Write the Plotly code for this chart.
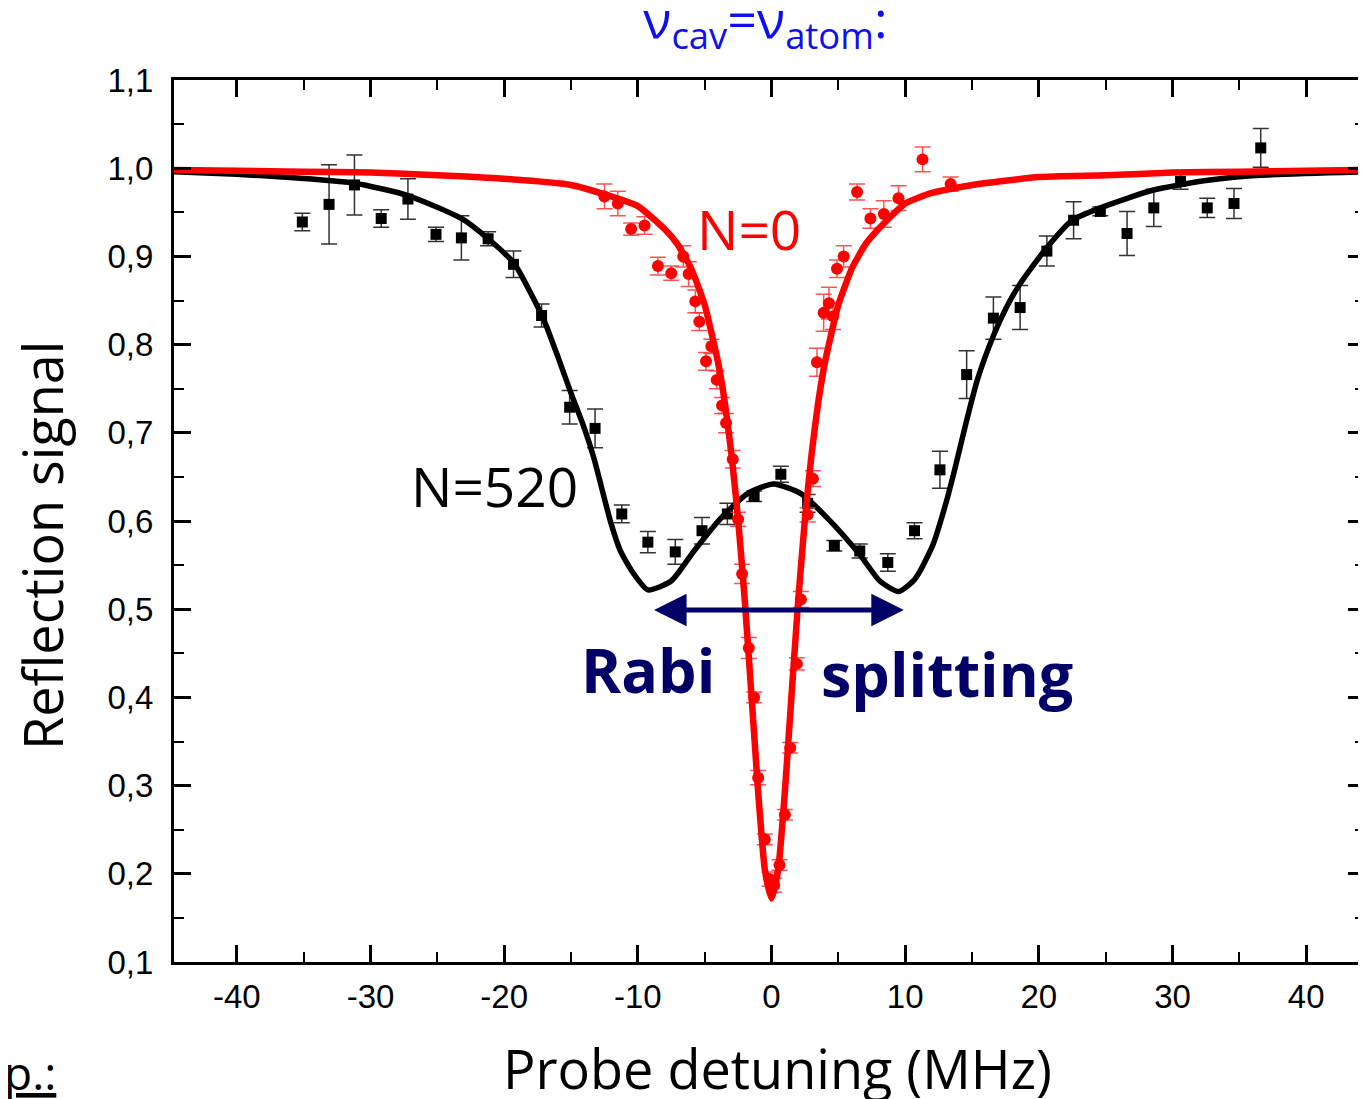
import plotly.graph_objects as go

# ---- data ----
black_x = [-35.1, -33.1, -31.2, -29.2, -27.2, -25.1, -23.2, -21.2, -19.3, -17.2, -15.1, -13.2,
           -11.2, -9.25, -7.2, -5.2, -3.3, -1.3, 0.7, 2.7, 4.7, 6.6, 8.7, 10.7, 12.6, 14.6,
           16.6, 18.6, 20.6, 22.6, 24.6, 26.6, 28.6, 30.6, 32.6, 34.6, 36.6]
black_y = [0.939, 0.959, 0.981, 0.943, 0.965, 0.925, 0.921, 0.920, 0.891, 0.833, 0.729, 0.705,
           0.608, 0.576, 0.565, 0.589, 0.608, 0.628, 0.653, 0.620, 0.572, 0.566, 0.553, 0.589,
           0.658, 0.766, 0.830, 0.842, 0.906, 0.941, 0.951, 0.926, 0.955, 0.985, 0.955, 0.960, 1.023]
black_err = [0.010, 0.045, 0.034, 0.010, 0.023, 0.008, 0.025, 0.008, 0.015, 0.013, 0.019, 0.022,
             0.010, 0.012, 0.014, 0.015, 0.012, 0.006, 0.009, 0.010, 0.006, 0.008, 0.010, 0.009,
             0.021, 0.027, 0.024, 0.025, 0.017, 0.021, 0.005, 0.025, 0.021, 0.009, 0.011, 0.017, 0.022]

red_x = [-12.5, -11.5, -10.5, -9.5, -8.5, -7.5, -6.6, -6.2, -5.7, -5.4, -4.9, -4.5, -4.1, -3.7,
         -3.4, -2.9, -2.5, -2.2, -1.7, -1.3, -1.0, -0.5, -0.15, 0.2, 0.6, 1.0, 1.4, 1.9, 2.2,
         2.7, 3.1, 3.4, 3.9, 4.3, 4.6, 4.9, 5.4, 6.4, 7.4, 8.4, 9.5, 11.3, 13.4]
red_y = [0.968, 0.960, 0.931, 0.935, 0.889, 0.881, 0.900, 0.880, 0.849, 0.826, 0.781, 0.798, 0.760,
         0.731, 0.711, 0.670, 0.602, 0.540, 0.456, 0.400, 0.309, 0.239, 0.194, 0.187, 0.210, 0.267,
         0.343, 0.438, 0.511, 0.607, 0.648, 0.780, 0.836, 0.847, 0.832, 0.886, 0.900, 0.973, 0.943,
         0.948, 0.966, 1.010, 0.982]
red_err = [0.014, 0.014, 0.007, 0.010, 0.010, 0.008, 0.012, 0.014, 0.013, 0.010, 0.010, 0.008, 0.010,
           0.009, 0.011, 0.010, 0.008, 0.011, 0.012, 0.006, 0.008, 0.006, 0.008, 0.008, 0.006, 0.006,
           0.006, 0.007, 0.009, 0.008, 0.009, 0.016, 0.021, 0.018, 0.015, 0.010, 0.012, 0.009, 0.011,
           0.015, 0.014, 0.014, 0.008]

# fitted curves
fit520_x = [-44.7, -40, -36.6, -31.2, -27.2, -23.2, -21.2, -19.25, -18, -17, -16, -15, -14,
            -13.3, -12, -11.3, -10.3, -9.25, -7.5, -5.8, -3.8, -1.8, 0.15, 2.2, 4.2, 6.6, 8.1,
            9.5, 10.6, 11.1, 12.1, 13.1, 13.7, 14.6, 15.4, 16.6, 17.6, 18.6, 20.6, 22.5, 24.6,
            28.5, 32.5, 36.5, 44.4]
fit520_y = [0.996, 0.993, 0.990, 0.983, 0.969, 0.943, 0.920, 0.892, 0.858, 0.827, 0.787, 0.745,
            0.705, 0.672, 0.597, 0.566, 0.540, 0.522, 0.532, 0.566, 0.603, 0.631, 0.642, 0.631,
            0.603, 0.562, 0.532, 0.520, 0.532, 0.543, 0.574, 0.623, 0.658, 0.714, 0.760, 0.810,
            0.843, 0.869, 0.910, 0.941, 0.955, 0.975, 0.986, 0.992, 0.996]

fit0_x = [-44.7, -40, -35, -30, -25, -20, -15, -12, -10, -8, -7, -6, -5, -4, -3.5, -3, -2.5, -2,
          -1.5, -1, -0.5, 0, 0.5, 1, 1.5, 2, 2.5, 3, 3.5, 4, 5, 6, 7, 8, 10, 12, 15, 20, 25, 30,
          35, 40, 44.4]
fit0_y = [0.998, 0.997, 0.996, 0.995, 0.992, 0.988, 0.981, 0.968, 0.957, 0.931, 0.913, 0.886, 0.845,
          0.780, 0.735, 0.676, 0.602, 0.510, 0.403, 0.293, 0.205, 0.172, 0.205, 0.293, 0.403, 0.510,
          0.602, 0.676, 0.735, 0.780, 0.845, 0.886, 0.913, 0.931, 0.960, 0.972, 0.981, 0.990, 0.992,
          0.995, 0.996, 0.997, 0.998]

ytick_vals = [0.1, 0.2, 0.3, 0.4, 0.5, 0.6, 0.7, 0.8, 0.9, 1.0, 1.1]
ytick_text = ["0,1", "0,2", "0,3", "0,4", "0,5", "0,6", "0,7", "0,8", "0,9", "1,0", "1,1"]
xtick_vals = [-40, -30, -20, -10, 0, 10, 20, 30, 40]
xtick_text = ["-40", "-30", "-20", "-10", "0", "10", "20", "30", "40"]

COMIC = "Comic Sans MS, Open Sans, sans-serif"
NAVY = "#000066"
TICKFONT = dict(family="Liberation Sans, Arial", size=33, color="black")

fig = go.Figure()

fig.add_trace(go.Scatter(
    x=black_x, y=black_y, mode="markers",
    marker=dict(symbol="square", size=11, color="black"),
    error_y=dict(type="data", array=black_err, color="#333333", thickness=1.5, width=8),
    showlegend=False))

fig.add_trace(go.Scatter(
    x=fit520_x, y=fit520_y, mode="lines",
    line=dict(color="black", width=5.5, shape="spline", smoothing=0.6),
    showlegend=False))

fig.add_trace(go.Scatter(
    x=red_x, y=red_y, mode="markers",
    marker=dict(symbol="circle", size=12, color="#ff0000"),
    error_y=dict(type="data", array=red_err, color="rgba(255,40,40,0.8)", thickness=1.5, width=8),
    showlegend=False))

fig.add_trace(go.Scatter(
    x=fit0_x, y=fit0_y, mode="lines",
    line=dict(color="#ff0000", width=6.5, shape="spline", smoothing=0.5),
    showlegend=False))

# plot area: page x 172..1366, page y 80..962 (page has an 8px body margin)
annotations = [
    dict(x=0.45, y=-0.120, xref="x", yref="paper", xanchor="center", yanchor="middle",
         showarrow=False, text="Probe detuning (MHz)",
         font=dict(family=COMIC, size=54, color="black")),
    dict(x=-0.1106, y=0.473, xref="paper", yref="paper", xanchor="center", yanchor="middle",
         showarrow=False, textangle=-90, text="Reflection signal",
         font=dict(family=COMIC, size=54, color="black")),
    dict(x=-0.144, y=-0.1247, xref="paper", yref="paper", xanchor="left", yanchor="middle",
         showarrow=False, text="<u>p.:</u>", font=dict(family=COMIC, size=46, color="black")),
    dict(x=-1.7, y=0.932, xref="x", yref="y", xanchor="center", yanchor="middle", showarrow=False,
         text="N=0", font=dict(family=COMIC, size=55, color="#ff0000")),
    dict(x=-20.7, y=0.640, xref="x", yref="y", xanchor="center", yanchor="middle", showarrow=False,
         text="N=520", font=dict(family=COMIC, size=55, color="black")),
    dict(x=-9.25, y=0.432, xref="x", yref="y", xanchor="center", yanchor="middle", showarrow=False,
         text="<b>Rabi</b>", font=dict(family=COMIC, size=61, color=NAVY)),
    dict(x=13.1, y=0.427, xref="x", yref="y", xanchor="center", yanchor="middle", showarrow=False,
         text="<b>splitting</b>", font=dict(family=COMIC, size=61, color=NAVY)),
    dict(x=9.9, y=0.499, ax=-8.9, ay=0.499, xref="x", yref="y", axref="x", ayref="y",
         text="", showarrow=True, arrowhead=2, arrowside="end+start", arrowsize=1.3,
         arrowwidth=5, arrowcolor=NAVY),
]

fig.update_layout(
    width=1360, height=1091,
    margin=dict(l=166, r=0, t=72, b=137),
    paper_bgcolor="white", plot_bgcolor="white",
    title=dict(text="ν<sub>cav</sub>=ν<sub>atom</sub>:", xref="paper", x=0.4966,
               yref="container", y=1 - 12 / 1091, xanchor="center", yanchor="middle",
               font=dict(family=COMIC, size=52, color="#1010ee")),
    annotations=annotations,
    xaxis=dict(range=[-44.7, 44.4], tickvals=xtick_vals, ticktext=xtick_text, ticks="inside",
               ticklen=17, tickwidth=2.5, tickcolor="black", showline=True, linecolor="black",
               linewidth=3, mirror="allticks", showgrid=False, zeroline=False, tickfont=TICKFONT,
               ticklabelstandoff=3,
               minor=dict(dtick=5, tick0=0, ticks="inside", ticklen=10, tickwidth=2,
                          tickcolor="black", showgrid=False)),
    yaxis=dict(range=[0.1, 1.1], tickvals=ytick_vals, ticktext=ytick_text, ticks="inside",
               ticklen=17, tickwidth=2.5, tickcolor="black", showline=True, linecolor="black",
               linewidth=3, mirror="allticks", showgrid=False, zeroline=False, tickfont=TICKFONT,
               ticklabelstandoff=11,
               minor=dict(dtick=0.05, tick0=0.1, ticks="inside", ticklen=10, tickwidth=2,
                          tickcolor="black", showgrid=False)),
)

fig.write_html("out.html")
